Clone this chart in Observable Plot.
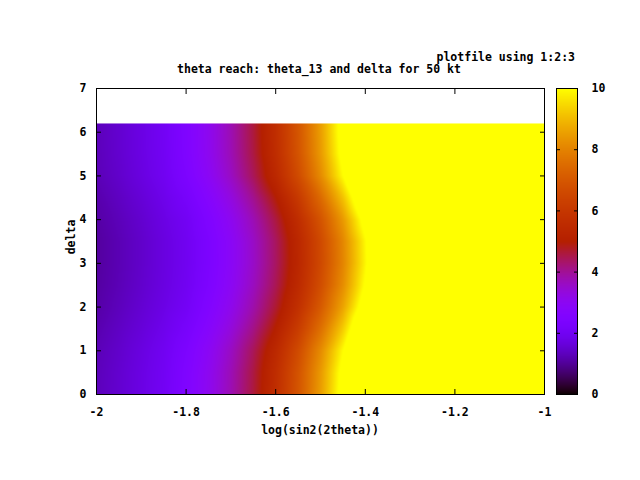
<!DOCTYPE html>
<html><head><meta charset="utf-8">
<script src="https://cdn.jsdelivr.net/npm/d3@7"></script>
<script src="https://cdn.jsdelivr.net/npm/@observablehq/plot@0.6"></script>
<style>
body{margin:0;background:#fff;}
#chart{position:relative;width:640px;height:480px;overflow:hidden;font-family:"DejaVu Sans Mono",monospace;font-weight:bold;font-size:11.5px;color:#000;}
#chart svg{position:absolute;top:0;}
.t{position:absolute;white-space:pre;line-height:12px;}
</style></head><body><div id="chart"></div>
<script>
// log(sin^2(2theta)) grid columns
const logSin = [-2, -1.95, -1.9, -1.85, -1.8, -1.75, -1.7, -1.65, -1.6, -1.55, -1.5, -1.45, -1.4, -1.35, -1.3, -1.2, -1.1, -1.0];
// delta grid rows
const deltas = [0, 0.5, 1.0, 1.5, 2.0, 2.5, 3.0, 3.5, 4.0, 4.5, 5.0, 5.5, 6.0, 6.2];
// reach values (colour), one row per delta (saturated region shown as 10)
const row00 = [1.31,1.52,1.76,2.04,2.50,3.07,3.76,4.61,5.65,6.93,8.50,10.4,12.8,15.7,10,10,10,10];
const row05 = [1.30,1.51,1.75,2.02,2.48,3.05,3.73,4.57,5.61,6.88,8.43,10.3,12.7,15.6,10,10,10,10];
const row10 = [1.27,1.47,1.71,1.98,2.40,2.95,3.61,4.43,5.42,6.65,8.16,9.98,12.3,15.1,10,10,10,10];
const row15 = [1.20,1.40,1.62,1.88,2.23,2.74,3.35,4.11,5.04,6.18,7.58,9.28,11.4,14.0,10,10,10,10];
const row20 = [1.13,1.32,1.54,1.78,2.07,2.55,3.12,3.82,4.68,5.74,7.05,8.62,10.6,13.0,10,10,10,10];
const row25 = [1.09,1.27,1.48,1.72,1.99,2.42,2.97,3.64,4.46,5.47,6.71,8.21,10.1,12.4,10,10,10,10];
const row30 = [1.07,1.25,1.46,1.70,1.96,2.37,2.91,3.56,4.37,5.36,6.57,8.04,9.88,12.1,10,10,10,10];
const row35 = [1.07,1.25,1.46,1.70,1.97,2.38,2.92,3.58,4.39,5.39,6.60,8.08,9.92,12.2,10,10,10,10];
const row40 = [1.12,1.30,1.51,1.76,2.03,2.49,3.05,3.74,4.59,5.63,6.90,8.44,10.4,12.7,10,10,10,10];
const row45 = [1.18,1.38,1.60,1.86,2.20,2.70,3.30,4.05,4.96,6.08,7.46,9.13,11.2,13.8,10,10,10,10];
const row50 = [1.27,1.47,1.71,1.98,2.40,2.95,3.61,4.43,5.42,6.65,8.16,9.98,12.3,15.1,10,10,10,10];
const row55 = [1.30,1.51,1.75,2.02,2.48,3.05,3.73,4.57,5.61,6.88,8.43,10.3,12.7,15.6,10,10,10,10];
const row60 = [1.31,1.52,1.76,2.04,2.50,3.07,3.76,4.61,5.65,6.93,8.50,10.4,12.8,15.7,10,10,10,10];
const row62 = [1.31,1.52,1.76,2.04,2.50,3.07,3.76,4.61,5.65,6.93,8.50,10.4,12.8,15.7,10,10,10,10];
const rows = [row00,row05,row10,row15,row20,row25,row30,row35,row40,row45,row50,row55,row60,row62];

const xTicks = [-2, -1.8, -1.6, -1.4, -1.2, -1];
const yTicks = [0, 1, 2, 3, 4, 5, 6, 7];
const cbTicks = [0, 2, 4, 6, 8, 10];

const points = [];
rows.forEach((r, i) => r.forEach((v, j) => points.push({x: logSin[j], y: deltas[i], v})));

// gnuplot default palette rgbformulae 7,5,15
const palette = t => `rgb(${Math.round(255*Math.sqrt(t))},${Math.round(255*t*t*t)},${Math.round(255*Math.max(0, Math.sin(2*Math.PI*t)))})`;
const colorOpts = {type: "linear", domain: [0, 10], clamp: true, interpolate: palette};
const fmt = d => String(d);
const style = {fontFamily: '"DejaVu Sans Mono", monospace', fontSize: "11.5px", fontWeight: "bold", background: "transparent", color: "#000", overflow: "visible"};
const none = () => "";

const main = Plot.plot({
  width: 640, height: 480, marginLeft: 96, marginRight: 96, marginTop: 88, marginBottom: 86,
  style,
  x: {domain: [-2, -1]}, y: {domain: [0, 7]},
  color: colorOpts,
  marks: [
    Plot.raster(points, {x: "x", y: "y", fill: "v", interpolate: "barycentric", x1: -2, x2: -1, y1: 0, y2: 6.2}),
    Plot.axisX(xTicks, {anchor: "bottom", tickSize: -5, tickFormat: none, label: null}),
    Plot.axisX(xTicks, {anchor: "top", tickSize: -5, tickFormat: none, label: null}),
    Plot.axisX(xTicks, {anchor: "bottom", tickSize: 0, tickPadding: 13, tickFormat: fmt, label: null}),
    Plot.axisY(yTicks, {anchor: "left", tickSize: -5, tickFormat: none, label: null}),
    Plot.axisY(yTicks, {anchor: "right", tickSize: -5, tickFormat: none, label: null}),
    Plot.axisY(yTicks, {anchor: "left", tickSize: 0, tickPadding: 10, tickFormat: fmt, label: null}),
    Plot.frame({stroke: "#000"})
  ]
});

const bar = Plot.plot({
  width: 84, height: 480, marginLeft: 0, marginRight: 63, marginTop: 88, marginBottom: 86,
  style,
  x: {domain: [0, 1], axis: null}, y: {domain: [0, 10]},
  color: colorOpts,
  marks: [
    Plot.raster({fill: (x, y) => y, x1: 0, x2: 1, y1: 0, y2: 10}),
    Plot.axisY(cbTicks, {anchor: "left", tickSize: -4, tickFormat: none, label: null}),
    Plot.axisY(cbTicks, {anchor: "right", tickSize: -4, tickFormat: none, label: null}),
    Plot.axisY(cbTicks, {anchor: "right", tickSize: 0, tickPadding: 14, tickFormat: fmt, label: null}),
    Plot.frame({stroke: "#000"})
  ]
});

const chart = document.getElementById("chart");
main.style.left = "0px";
bar.style.left = "556px";
chart.appendChild(main);
chart.appendChild(bar);

function addText(txt, css) {
  const d = document.createElement("div");
  d.className = "t";
  d.textContent = txt;
  Object.assign(d.style, css);
  chart.appendChild(d);
}
addText("plotfile using 1:2:3", {right: "65px", top: "51px"});
addText("theta reach: theta_13 and delta for 50 kt", {left: "0px", width: "638px", textAlign: "center", top: "63px"});
addText("log(sin2(2theta))", {left: "0px", width: "640px", textAlign: "center", top: "424px"});
addText("delta", {left: "71px", top: "237px", transform: "translate(-50%,-50%) rotate(-90deg)"});
</script></body></html>
